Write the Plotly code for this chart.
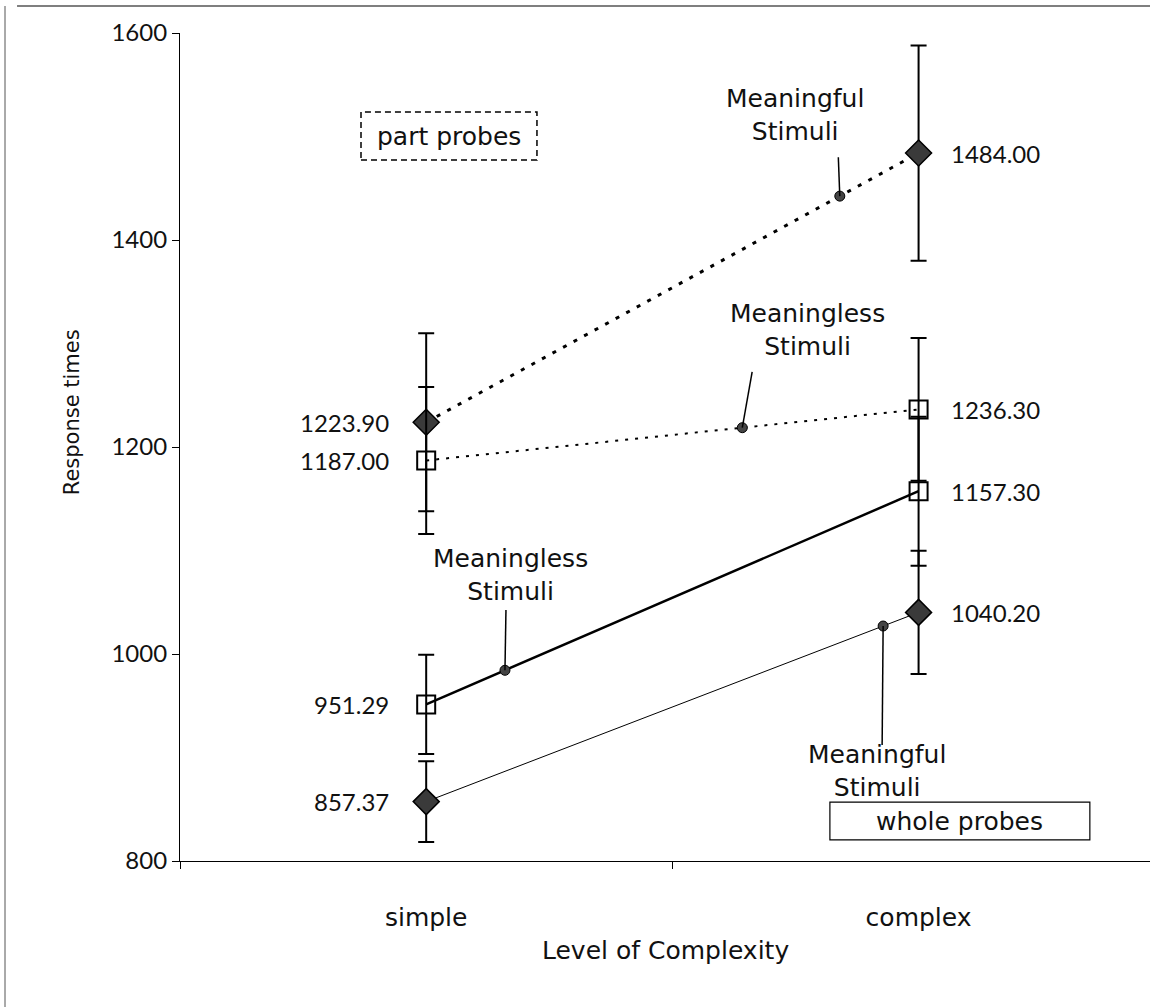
import plotly.graph_objects as go

# ---------------- data ----------------
categories = ["simple", "complex"]
x_pos = [0, 1]

part_meaningful = [1223.90, 1484.00]
part_meaningful_err = [86, 104]
part_meaningless = [1187.00, 1236.30]
part_meaningless_err = [71, 69]
whole_meaningless = [951.29, 1157.30]
whole_meaningless_err = [48, 72]
whole_meaningful = [857.37, 1040.20]
whole_meaningful_err = [39, 59.5]

y_ticks = [800, 1000, 1200, 1400, 1600]

# callouts (position along each line as fraction of the simple->complex segment)
callout_text = ["Meaningful<br>Stimuli", "Meaningless<br>Stimuli",
                "Meaningless<br>Stimuli", "Meaningful<br>Stimuli"]
callout_frac = [0.84, 0.642, 0.16, 0.928]
leader_end_x = [0.837, 0.662, 0.162, 0.926]
leader_end_y = [1480, 1272.5, 1042.5, 912]
callout_text_x = [0.749, 0.774, 0.171, 0.916]
callout_text_y = [1521, 1313, 1076, 887]

WORD_FONT = "DejaVu Sans"
NUM_FONT = "Lato"
INK = "#111111"

wordfont = dict(family=WORD_FONT, size=25, color=INK)
numfont = dict(family=NUM_FONT, size=24, color=INK)

fig = go.Figure()

series = [
    (part_meaningful, part_meaningful_err, "diamond", dict(width=3, dash="4px,8px")),
    (part_meaningless, part_meaningless_err, "square-open", dict(width=2, dash="3px,7px")),
    (whole_meaningless, whole_meaningless_err, "square-open", dict(width=2.5)),
    (whole_meaningful, whole_meaningful_err, "diamond", dict(width=1)),
]

for vals, errs, sym, lstyle in series:
    if sym == "diamond":
        marker = dict(symbol="diamond", size=20, color="#3a3a3a",
                      line=dict(color="black", width=1.5))
    else:
        marker = dict(symbol="square-open", size=18, color="black",
                      line=dict(color="black", width=2))
    fig.add_trace(go.Scatter(
        x=x_pos, y=vals, mode="lines+markers",
        line=dict(color="black", **lstyle),
        marker=marker,
        error_y=dict(type="data", array=errs, visible=True, color="black",
                     thickness=2, width=8),
        showlegend=False, hoverinfo="skip",
    ))

# value labels
annotations = []
for vals, _, _, _ in series:
    for xi, v in zip(x_pos, vals):
        annotations.append(dict(
            x=xi, y=v, xref="x", yref="y", text=f"{v:.2f}", showarrow=False,
            xanchor="right" if xi == 0 else "left", yanchor="middle",
            xshift=-35 if xi == 0 else 30,
            font=numfont,
        ))

# callout dots, leaders and texts
all_vals = [part_meaningful, part_meaningless, whole_meaningless, whole_meaningful]
dot_x, dot_y = [], []
shapes = []
for vals, f, lx, ly, tx, ty, t in zip(all_vals, callout_frac, leader_end_x, leader_end_y,
                                      callout_text_x, callout_text_y, callout_text):
    dx = x_pos[0] + f * (x_pos[1] - x_pos[0])
    dy = vals[0] + f * (vals[1] - vals[0])
    dot_x.append(dx)
    dot_y.append(dy)
    shapes.append(dict(type="line", xref="x", yref="y", x0=dx, y0=dy, x1=lx, y1=ly,
                       line=dict(color="black", width=1.5)))
    annotations.append(dict(x=tx, y=ty, xref="x", yref="y", text=t, showarrow=False,
                            xanchor="center", yanchor="middle", font=wordfont))

fig.add_trace(go.Scatter(x=dot_x, y=dot_y, mode="markers",
                         marker=dict(size=10, color="#444444", line=dict(color="black", width=1)),
                         showlegend=False, hoverinfo="skip"))

# boxes
shapes.append(dict(type="rect", xref="paper", yref="paper", x0=0.1866, x1=0.368,
                   y0=0.8466, y1=0.9046, line=dict(color="black", width=1.5, dash="6px,4px")))
annotations.append(dict(x=(0.1866 + 0.368) / 2, y=(0.8466 + 0.9046) / 2, xref="paper", yref="paper",
                        text="part probes", showarrow=False, xanchor="center", yanchor="middle",
                        font=wordfont))
shapes.append(dict(type="rect", xref="paper", yref="paper", x0=0.670, x1=0.938,
                   y0=0.0254, y1=0.0712, line=dict(color="black", width=1.2)))
annotations.append(dict(x=(0.670 + 0.938) / 2, y=(0.0254 + 0.0712) / 2, xref="paper", yref="paper",
                        text="whole probes", showarrow=False, xanchor="center", yanchor="middle",
                        font=wordfont))

# outer frame (left and top)
shapes.append(dict(type="line", xref="paper", yref="paper", x0=-0.1804, x1=-0.1804,
                   y0=1.0326, y1=-0.18, line=dict(color="#555555", width=1)))
shapes.append(dict(type="line", xref="paper", yref="paper", x0=-0.168, x1=1.0,
                   y0=1.0326, y1=1.0326, line=dict(color="#555555", width=1.5)))

# axis titles
annotations.append(dict(x=-0.1113, y=0.542, xref="paper", yref="paper", text="Response times",
                        textangle=-90, showarrow=False, xanchor="center", yanchor="middle",
                        font=dict(family=WORD_FONT, size=21, color=INK)))
annotations.append(dict(x=0.5, y=-0.1075, xref="paper", yref="paper", text="Level of Complexity",
                        showarrow=False, xanchor="center", yanchor="middle", font=wordfont))

fig.update_layout(
    width=1150, height=1007,
    margin=dict(l=180, r=0, t=33, b=146),
    paper_bgcolor="white", plot_bgcolor="white",
    font=wordfont,
    xaxis=dict(range=[-0.5, 1.47], tickvals=x_pos, ticktext=categories, ticks="",
               showline=True, linecolor="black", linewidth=1.2, showgrid=False,
               zeroline=False, ticklabelstandoff=34, tickfont=wordfont),
    xaxis2=dict(range=[-0.5, 1.47], overlaying="x", anchor="y", side="bottom",
                tickvals=[-0.5, 0.5], ticks="outside", ticklen=7, tickcolor="black",
                showticklabels=False, showline=False, showgrid=False, zeroline=False),
    yaxis=dict(range=[800, 1600], tickvals=y_ticks, ticks="outside", ticklen=7,
               tickcolor="black", showline=True, linecolor="black", linewidth=1.2,
               showgrid=False, zeroline=False, tickfont=numfont),
    shapes=shapes, annotations=annotations,
)
# dummy trace to activate xaxis2
fig.add_trace(go.Scatter(x=[None], y=[None], xaxis="x2", yaxis="y", showlegend=False,
                         hoverinfo="skip"))

fig.write_html("out.html")
